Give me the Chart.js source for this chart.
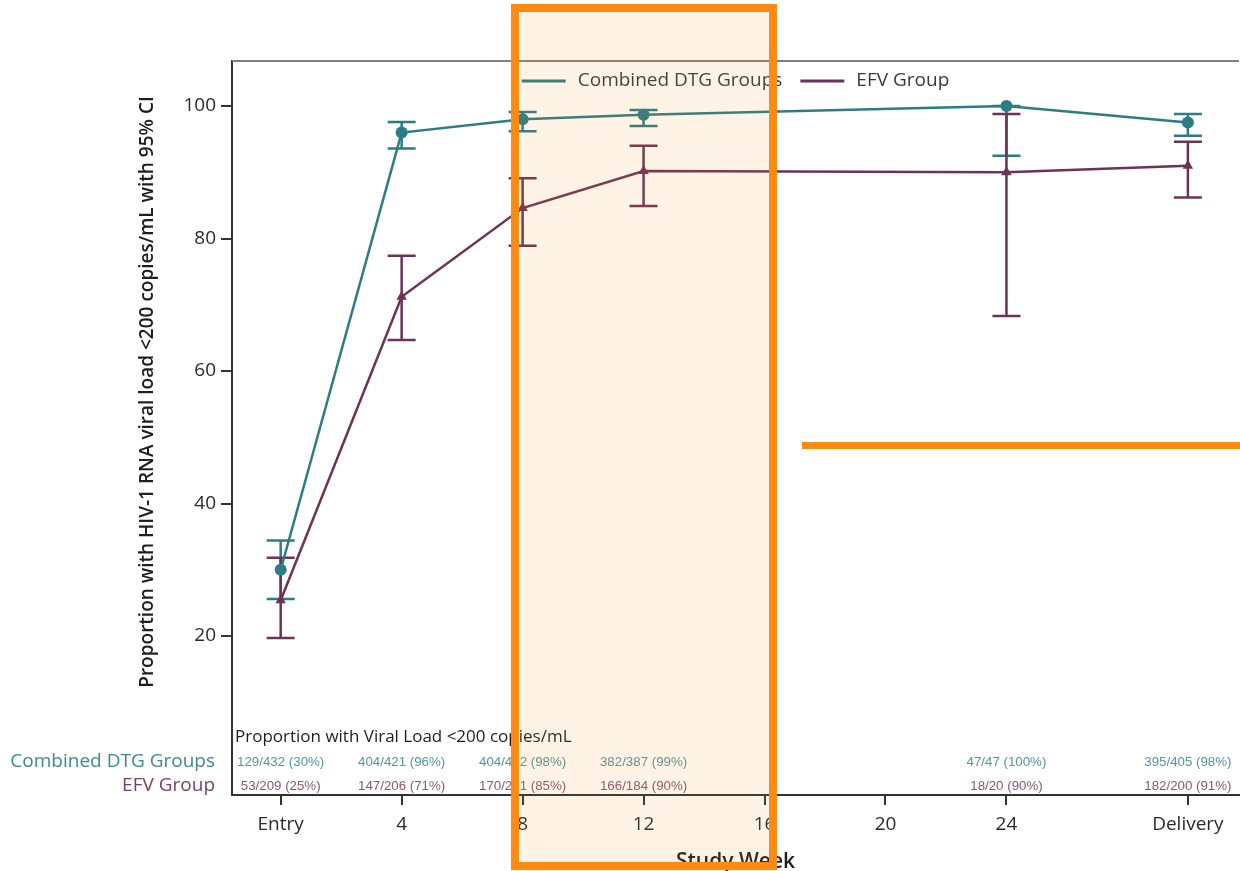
<!DOCTYPE html>
<html><head><meta charset="utf-8">
<script src="https://cdn.jsdelivr.net/npm/chart.js@4/dist/chart.umd.min.js"></script>
<style>
html,body{margin:0;padding:0;background:#fff;overflow:hidden;width:1240px;height:871px}
#wrap{position:absolute;left:0;top:0;width:1245px;height:871px}
</style></head>
<body><div id="wrap"><canvas id="c"></canvas></div>
<script>
// ---- data ----
const weeks = [0, 4, 8, 12, 24, 30];
const tickWeeks = [0, 4, 8, 12, 16, 20, 24, 30];
const tickLabels = ['Entry', '4', '8', '12', '16', '20', '24', 'Delivery'];
const yTicks = [20, 40, 60, 80, 100];
const dtgLabel = 'Combined DTG Groups';
const efvLabel = 'EFV Group';
const dtgValues = [30, 96, 98, 98.7, 100, 97.5];
const dtgLower  = [25.6, 93.6, 96.2, 97.0, 92.5, 95.5];
const dtgUpper  = [34.4, 97.6, 99.1, 99.4, 100, 98.8];
const efvValues = [25.4, 71.2, 84.6, 90.2, 90, 91];
const efvLower  = [19.7, 64.7, 78.9, 84.9, 68.3, 86.2];
const efvUpper  = [31.8, 77.4, 89.1, 94.0, 98.8, 94.6];
const dtgTable = ['129/432 (30%)', '404/421 (96%)', '404/412 (98%)', '382/387 (99%)', '47/47 (100%)', '395/405 (98%)'];
const efvTable = ['53/209 (25%)', '147/206 (71%)', '170/201 (85%)', '166/184 (90%)', '18/20 (90%)', '182/200 (91%)'];
const tableTitle = 'Proportion with Viral Load <200 copies/mL';
const yTitle = 'Proportion with HIV-1 RNA viral load <200 copies/mL with 95% CI';
const xTitle = 'Study Week';

const TEAL = '#2b7c85', PURPLE = '#6b3357';
const TEAL_TXT = '#4f979d', PURPLE_TXT = '#895677';
const FONT = '"Open Sans", "Liberation Sans", sans-serif';

const extras = {
  id: 'extras',
  beforeDatasetsDraw(chart) {
    const ctx = chart.ctx, xs = chart.scales.x, ys = chart.scales.y;
    const sets = [[dtgLower, dtgUpper, TEAL], [efvLower, efvUpper, PURPLE]];
    ctx.save();
    ctx.lineWidth = 2.5;
    sets.forEach(([lo, hi, col]) => {
      ctx.strokeStyle = col;
      weeks.forEach((w, i) => {
        const x = xs.getPixelForValue(w);
        const y1 = ys.getPixelForValue(lo[i]), y2 = ys.getPixelForValue(hi[i]);
        ctx.beginPath();
        ctx.moveTo(x, y1); ctx.lineTo(x, y2);
        ctx.moveTo(x - 14, y1); ctx.lineTo(x + 14, y1);
        ctx.moveTo(x - 14, y2); ctx.lineTo(x + 14, y2);
        ctx.stroke();
      });
    });
    ctx.restore();
  },
  afterDraw(chart) {
    const ctx = chart.ctx, xs = chart.scales.x, a = chart.chartArea;
    ctx.save();
    // top frame
    ctx.strokeStyle = '#808080'; ctx.lineWidth = 2;
    ctx.beginPath(); ctx.moveTo(a.left, a.top); ctx.lineTo(a.right, a.top); ctx.stroke();
    // legend
    ctx.font = '19px ' + FONT;
    ctx.textBaseline = 'middle';
    const items = chart.data.datasets.map(d => ({label: d.label, color: d.borderColor}));
    const sample = 44, gap1 = 12, gap2 = 18;
    let total = 0;
    items.forEach((it, i) => { total += sample + gap1 + ctx.measureText(it.label).width + (i < items.length - 1 ? gap2 : 0); });
    let lx = (a.left + a.right) / 2 - total / 2;
    const ly = 81;
    items.forEach(it => {
      ctx.strokeStyle = it.color; ctx.lineWidth = 3;
      ctx.beginPath(); ctx.moveTo(lx, ly); ctx.lineTo(lx + sample, ly); ctx.stroke();
      lx += sample + gap1;
      ctx.fillStyle = '#3a3a3a'; ctx.textAlign = 'left';
      ctx.fillText(it.label, lx, ly);
      lx += ctx.measureText(it.label).width + gap2;
    });
    // inset table
    ctx.fillStyle = '#1e1e1e'; ctx.font = '17px ' + FONT; ctx.textAlign = 'left';
    ctx.fillText(tableTitle, a.left + 3, a.bottom - 58);
    ctx.font = '13.3px "Liberation Sans", sans-serif'; ctx.textAlign = 'center';
    weeks.forEach((w, i) => {
      const x = xs.getPixelForValue(w);
      ctx.fillStyle = TEAL_TXT; ctx.fillText(dtgTable[i], x, a.bottom - 33);
      ctx.fillStyle = PURPLE_TXT; ctx.fillText(efvTable[i], x, a.bottom - 9);
    });
    ctx.font = '19px ' + FONT; ctx.textAlign = 'right';
    ctx.fillStyle = '#3a8a8e'; ctx.fillText(dtgLabel, a.left - 17, a.bottom - 33);
    ctx.fillStyle = '#7a3f66'; ctx.fillText(efvLabel, a.left - 17, a.bottom - 9);
    // axis titles
    ctx.fillStyle = '#1e1e1e';
    ctx.font = '600 19px ' + FONT; ctx.textAlign = 'center';
    ctx.save(); ctx.translate(148, 392); ctx.rotate(-Math.PI / 2);
    ctx.fillText(yTitle, 0, 0); ctx.restore();
    ctx.font = '600 21px ' + FONT;
    ctx.fillText(xTitle, (a.left + a.right) / 2, 862);
    // orange highlight annotation overlay
    ctx.fillStyle = 'rgba(255,140,0,0.10)';
    ctx.fillRect(515, 8, 258, 858);
    ctx.strokeStyle = '#ff8a12'; ctx.lineWidth = 8;
    ctx.strokeRect(515, 8, 258, 858);
    ctx.fillStyle = '#ff8a12';
    ctx.fillRect(802, 442, 460, 7);
    ctx.restore();
  }
};

Chart.defaults.font.family = FONT;
new Chart(document.getElementById('c'), {
  type: 'line',
  data: {
    datasets: [
      { label: dtgLabel, data: weeks.map((w, i) => ({x: w, y: dtgValues[i]})),
        borderColor: TEAL, backgroundColor: TEAL, borderWidth: 2.5,
        pointStyle: 'circle', pointRadius: 6, pointBorderWidth: 0, tension: 0 },
      { label: efvLabel, data: weeks.map((w, i) => ({x: w, y: efvValues[i]})),
        borderColor: PURPLE, backgroundColor: PURPLE, borderWidth: 2.5,
        pointStyle: 'triangle', pointRadius: 6, pointBorderWidth: 0, tension: 0 }
    ]
  },
  options: {
    responsive: true, maintainAspectRatio: false, animation: false,
    layout: { padding: { top: 61, left: 0, right: 0, bottom: 0 } },
    plugins: { legend: { display: false }, tooltip: { enabled: false } },
    scales: {
      x: {
        type: 'linear', min: -1.61, max: 31.69,
        afterBuildTicks: s => { s.ticks = tickWeeks.map(v => ({value: v})); },
        afterFit: s => { s.height = 76; },
        ticks: { callback: (v) => { const i = tickWeeks.indexOf(v); return i >= 0 ? tickLabels[i] : ''; },
                 color: '#2a2a2a', font: { size: 19 }, padding: 8, maxRotation: 0, autoSkip: false },
        grid: { drawOnChartArea: false, drawTicks: true, tickLength: 10, color: '#333', lineWidth: 2 },
        border: { display: true, color: '#333', width: 2 }
      },
      y: {
        min: -4.0, max: 106.8,
        afterBuildTicks: s => { s.ticks = yTicks.map(v => ({value: v})); },
        afterFit: s => { s.width = 232; },
        ticks: { color: '#2a2a2a', font: { size: 19 }, padding: 5 },
        grid: { drawOnChartArea: false, drawTicks: true, tickLength: 11, color: '#333', lineWidth: 2 },
        border: { display: true, color: '#333', width: 2 }
      }
    }
  },
  plugins: [extras]
});
</script>
</body></html>
